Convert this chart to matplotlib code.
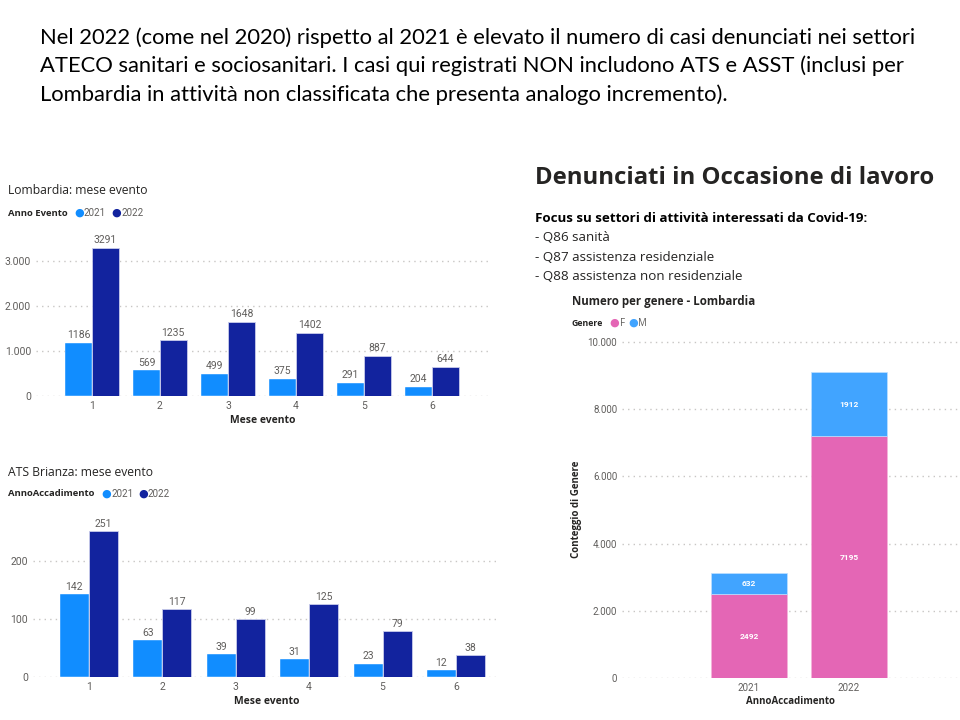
import matplotlib
matplotlib.use("Agg")
import matplotlib.pyplot as plt
import numpy as np

plt.rcParams["font.family"] = ["Open Sans", "DejaVu Sans"]

# Data
months = [1, 2, 3, 4, 5, 6]
lomb_2021 = [1186, 569, 499, 375, 291, 204]
lomb_2022 = [3291, 1235, 1648, 1402, 887, 644]
brianza_2021 = [142, 63, 39, 31, 23, 12]
brianza_2022 = [251, 117, 99, 125, 79, 38]
anni = ["2021", "2022"]
genere_f = [2492, 7195]
genere_m = [632, 1912]

C_2021 = "#118DFF"
C_2022 = "#12239E"
C_F = "#E466B5"
C_M = "#41A4FF"
C_TICK = "#605E5C"
C_TITLE = "#252423"
C_GRID = "#C8C6C4"
NUM_FONT = ["Roboto", "DejaVu Sans"]

W, H = 960, 720
fig = plt.figure(figsize=(W / 100, H / 100), dpi=100)


def px_axes(x0, y0, x1, y1):
    """Axes from pixel box (top-left origin)."""
    return fig.add_axes([x0 / W, 1 - y1 / H, (x1 - x0) / W, (y1 - y0) / H])


def ftext(x, y, s, **kw):
    kw.setdefault("va", "center")
    return fig.text(x / W, 1 - y / H, s, **kw)


def style_axis(ax, size=7.5):
    for side in ax.spines.values():
        side.set_visible(False)
    ax.tick_params(length=0, colors=C_TICK, labelsize=size)
    for lab in ax.get_xticklabels() + ax.get_yticklabels():
        lab.set_family(NUM_FONT)
    ax.yaxis.grid(True, linestyle=(0, (1, 3)), color=C_GRID, linewidth=1)
    ax.set_axisbelow(True)


def fmt_it(v):
    return f"{int(v):,}".replace(",", ".")


def grouped(ax, a, b, ymax, yticks, pad):
    x = np.array(months)
    w = 0.395
    ax.bar(x - w / 2, a, w, color=C_2021, edgecolor="white", linewidth=0.3)
    ax.bar(x + w / 2, b, w, color=C_2022, edgecolor="#C9CCEB", linewidth=0.6)
    for xi, v in zip(x - w / 2, a):
        ax.text(xi, v + pad, str(v), ha="center", va="bottom", fontsize=7.5,
                color=C_TICK, family=NUM_FONT)
    for xi, v in zip(x + w / 2, b):
        ax.text(xi, v + pad, str(v), ha="center", va="bottom", fontsize=7.5,
                color=C_TICK, family=NUM_FONT)
    ax.set_ylim(0, ymax)
    ax.set_yticks(yticks)
    ax.set_yticklabels([fmt_it(t) for t in yticks])
    ax.set_xticks(x)
    ax.set_xticklabels([str(m) for m in months])
    style_axis(ax)
    ax.set_xlabel("Mese evento", fontsize=7.5, color=C_TITLE, fontweight="bold", labelpad=3)


# Headline text
intro = ("Nel 2022 (come nel 2020) rispetto al 2021 è elevato il numero di casi denunciati nei settori\n"
         "ATECO sanitari e sociosanitari. I casi qui registrati NON includono ATS e ASST (inclusi per\n"
         "Lombardia in attività non classificata che presenta analogo incremento).")
ftext(40, 66, intro, fontsize=15.8, family=["Lato", "DejaVu Sans"], color="black",
      linespacing=1.48, ha="left")

# Lombardia chart
ax1 = px_axes(36, 234, 490, 396)
grouped(ax1, lomb_2021, lomb_2022, 3600, [0, 1000, 2000, 3000], 60)
ax1.set_xlim(1 - 0.82, 6 + 0.85)
ftext(8, 190, "Lombardia: mese evento", fontsize=8.7, color=C_TITLE)
ftext(8, 213, "Anno Evento", fontsize=6.8, color=C_TITLE, fontweight="bold")
ftext(74, 213, "●", fontsize=8, color=C_2021)
ftext(84, 213, "2021", fontsize=7, color=C_TICK, family=NUM_FONT)
ftext(111, 213, "●", fontsize=8, color=C_2022)
ftext(121, 213, "2022", fontsize=7, color=C_TICK, family=NUM_FONT)

# ATS Brianza chart
ax2 = px_axes(33, 520, 500, 677)
grouped(ax2, brianza_2021, brianza_2022, 270, [0, 100, 200], 4)
ax2.set_xlim(1 - 0.76, 6 + 0.6)
ftext(8, 472, "ATS Brianza: mese evento", fontsize=8.7, color=C_TITLE)
ftext(8, 494, "AnnoAccadimento", fontsize=6.8, color=C_TITLE, fontweight="bold")
ftext(101, 494, "●", fontsize=8, color=C_2021)
ftext(112, 494, "2021", fontsize=7, color=C_TICK, family=NUM_FONT)
ftext(138, 494, "●", fontsize=8, color=C_2022)
ftext(148, 494, "2022", fontsize=7, color=C_TICK, family=NUM_FONT)

# Right panel texts
ftext(535, 178, "Denunciati in Occasione di lavoro", fontsize=17.2, fontweight="bold",
      color=C_TITLE)
ftext(535, 219, "Focus su settori di attività interessati da Covid-19:", fontsize=9.6,
      fontweight="bold", color="black")
for i, line in enumerate(["- Q86 sanità", "- Q87 assistenza residenziale",
                          "- Q88 assistenza non residenziale"]):
    ftext(535, 238 + i * 19.5, line, fontsize=9.6, color=C_TITLE)

# Gender stacked chart
ax3 = px_axes(622, 340, 960, 678)
xg = np.arange(len(anni))
ax3.bar(xg, genere_f, 0.76, color=C_F, edgecolor="#F3B5DA", linewidth=0.5)
ax3.bar(xg, genere_m, 0.76, bottom=genere_f, color=C_M, edgecolor="#BFE0FF", linewidth=0.5)
for xi, f, m in zip(xg, genere_f, genere_m):
    ax3.text(xi, f / 2, str(f), ha="center", va="center", fontsize=6, color="white",
             fontweight="bold", family=NUM_FONT)
    ax3.text(xi, f + m / 2, str(m), ha="center", va="center", fontsize=6, color="white",
             fontweight="bold", family=NUM_FONT)
ax3.set_xlim(-1.27, 2.11)
ax3.set_ylim(0, 10000 * 338 / 336)
yt = [0, 2000, 4000, 6000, 8000, 10000]
ax3.set_yticks(yt)
ax3.set_yticklabels([fmt_it(t) for t in yt])
ax3.set_xticks(xg)
ax3.set_xticklabels(anni)
style_axis(ax3, size=7)
ax3.set_xlabel("AnnoAccadimento", fontsize=7, color=C_TITLE, fontweight="bold", labelpad=2)
ax3.set_ylabel("Conteggio di Genere", fontsize=7, color=C_TITLE, fontweight="bold",
               labelpad=4)
ftext(572, 301, "Numero per genere - Lombardia", fontsize=8.3, color=C_TITLE, fontweight="bold")
ftext(572, 323, "Genere", fontsize=6.3, color=C_TITLE, fontweight="bold")
ftext(609, 323, "●", fontsize=8, color=C_F)
ftext(620, 323, "F", fontsize=7, color=C_TICK)
ftext(628, 323, "●", fontsize=8, color=C_M)
ftext(638, 323, "M", fontsize=7, color=C_TICK)

fig.savefig("out.png", dpi=100)
